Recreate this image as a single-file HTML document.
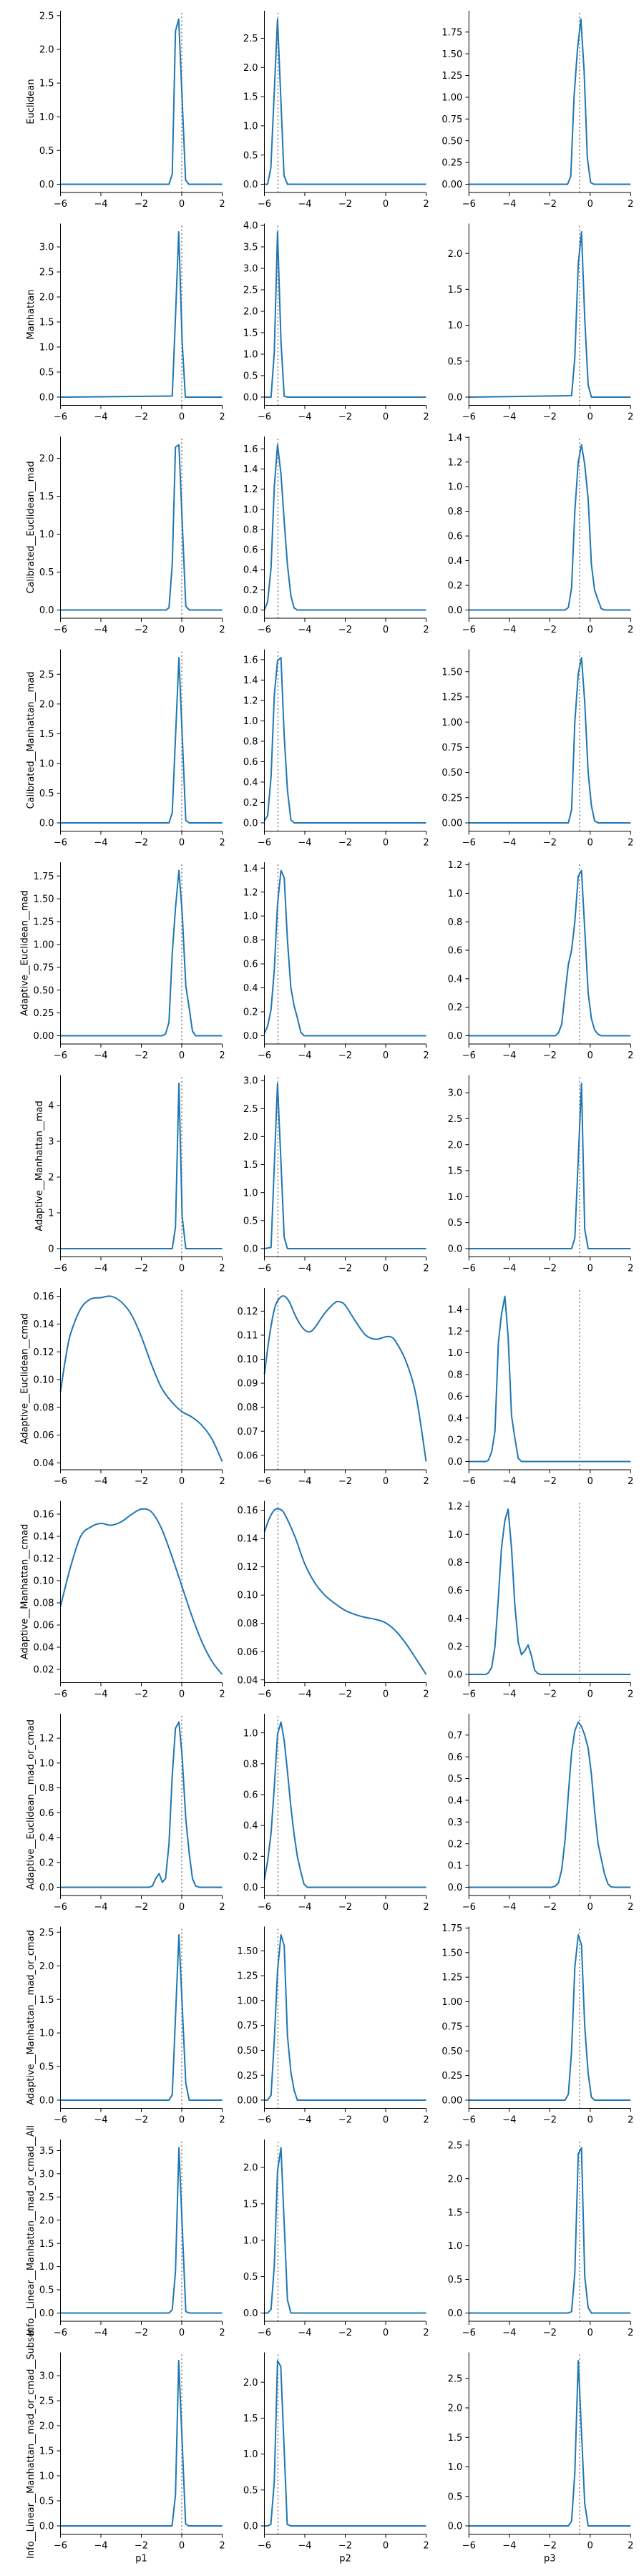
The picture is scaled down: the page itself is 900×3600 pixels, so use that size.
<!DOCTYPE html>
<html><head><meta charset="utf-8">
<style>
html,body{margin:0;padding:0;background:#fff;}
svg{display:block;font-family:"DejaVu Sans","Liberation Sans",sans-serif;}
</style></head>
<body>
<svg id="fig" xmlns="http://www.w3.org/2000/svg" width="900" height="3600" viewBox="0 0 900 3600"></svg>
<script>
const rowLabels=["Euclidean","Manhattan","Calibrated__Euclidean__mad","Calibrated__Manhattan__mad","Adaptive__Euclidean__mad","Adaptive__Manhattan__mad","Adaptive__Euclidean__cmad","Adaptive__Manhattan__cmad","Adaptive__Euclidean__mad_or_cmad","Adaptive__Manhattan__mad_or_cmad","Info__Linear__Manhattan__mad_or_cmad__All","Info__Linear__Manhattan__mad_or_cmad__Subset"];
const colLabels=["p1","p2","p3"];
const refLines=[0,-5.33,-0.53];
const xTicks=[-6,-4,-2,0,2];

const x_r1c1=[-6,-0.63,-0.47,-0.31,-0.15,0.19,0.35,2], y_r1c1=[0,0,0.15,2.27,2.45,0.06,0,0], t_r1c1=[0.5,1];
const x_r1c2=[-6,-5.84,-5.68,-5.35,-5.03,-4.86,2], y_r1c2=[0,0,0.28,2.83,0.15,0,0], t_r1c2=[0.5,1];
const x_r1c3=[-6,-1.12,-0.96,-0.8,-0.63,-0.46,-0.3,-0.14,0.02,0.18,2], y_r1c3=[0,0,0.09,1.0,1.55,1.9,1.3,0.3,0.02,0,0], t_r1c3=[0.25,2];
const x_r2c1=[-6,-0.47,-0.31,-0.15,0.02,0.18,2], y_r2c1=[0,0.02,1.6,3.3,1.1,0,0], t_r2c1=[0.5,1];
const x_r2c2=[-6,-5.67,-5.51,-5.35,-5.18,-5.02,-4.86,2], y_r2c2=[0,0,1.05,3.85,1.3,0.02,0,0], t_r2c2=[0.5,1];
const x_r2c3=[-6,-0.92,-0.76,-0.59,-0.43,-0.27,-0.1,0.06,2], y_r2c3=[0,0.02,0.55,1.85,2.3,1.1,0.17,0,0], t_r2c3=[0.5,1];
const x_r3c1=[-6,-0.78,-0.63,-0.47,-0.31,-0.14,0.2,0.37,2], y_r3c1=[0,0,0.03,0.6,2.15,2.18,0.05,0,0], t_r3c1=[0.5,1];
const x_r3c2=[-6,-5.84,-5.67,-5.51,-5.35,-5.18,-5.02,-4.86,-4.69,-4.53,-4.37,2], y_r3c2=[0,0.08,0.42,1.22,1.64,1.35,0.88,0.45,0.14,0.02,0,0], t_r3c2=[0.2,1];
const x_r3c3=[-6,-1.24,-1.08,-0.92,-0.76,-0.59,-0.43,-0.27,-0.1,0.06,0.22,0.39,0.55,0.71,2], y_r3c3=[0,0,0.02,0.18,0.8,1.2,1.34,1.18,0.9,0.37,0.16,0.08,0.01,0,0], t_r3c3=[0.2,1];
const x_r4c1=[-6,-0.63,-0.47,-0.14,0.2,0.37,2], y_r4c1=[0,0,0.17,2.78,0.04,0,0], t_r4c1=[0.5,1];
const x_r4c2=[-6,-5.84,-5.67,-5.51,-5.35,-5.18,-5.02,-4.86,-4.69,-4.53,2], y_r4c2=[0.02,0.07,0.45,1.25,1.59,1.62,0.85,0.32,0.03,0,0], t_r4c2=[0.2,1];
const x_r4c3=[-6,-1.08,-0.92,-0.76,-0.59,-0.43,-0.27,-0.1,0.06,0.22,0.39,2], y_r4c3=[0,0,0.13,1.0,1.48,1.64,1.2,0.5,0.17,0.02,0,0], t_r4c3=[0.25,2];
const x_r5c1=[-6,-0.96,-0.8,-0.63,-0.47,-0.31,-0.14,0.02,0.2,0.37,0.53,0.69,2], y_r5c1=[0,0,0.02,0.15,0.9,1.4,1.81,1.35,0.55,0.3,0.05,0,0], t_r5c1=[0.25,2];
const x_r5c2=[-6,-5.84,-5.67,-5.51,-5.35,-5.18,-5.02,-4.86,-4.69,-4.53,-4.37,-4.2,-4.04,2], y_r5c2=[0.02,0.08,0.22,0.55,1.1,1.38,1.32,0.8,0.4,0.25,0.15,0.03,0,0], t_r5c2=[0.2,1];
const x_r5c3=[-6,-1.73,-1.57,-1.41,-1.24,-1.08,-0.92,-0.76,-0.59,-0.43,-0.27,-0.1,0.06,0.22,0.39,0.55,2], y_r5c3=[0,0,0.02,0.08,0.3,0.5,0.6,0.8,1.12,1.16,0.75,0.3,0.12,0.04,0.01,0,0], t_r5c3=[0.2,1];
const x_r6c1=[-6,-0.47,-0.31,-0.14,0.02,0.2,2], y_r6c1=[0,0,0.6,4.62,0.9,0,0], t_r6c1=[1,0];
const x_r6c2=[-6,-5.67,-5.35,-5.02,-4.86,2], y_r6c2=[0,0.02,2.95,0.2,0,0], t_r6c2=[0.5,1];
const x_r6c3=[-6,-0.92,-0.76,-0.43,-0.27,-0.1,2], y_r6c3=[0,0,0.2,3.18,0.37,0,0], t_r6c3=[0.5,1];
const x_r7c1=[-6,-5.75,-5.5,-5,-4.5,-4,-3.5,-3,-2.5,-2,-1.5,-1,-0.5,0,0.5,1,1.5,2], y_r7c1=[0.091,0.115,0.133,0.151,0.158,0.159,0.160,0.156,0.147,0.131,0.111,0.094,0.084,0.077,0.073,0.067,0.057,0.041], t_r7c1=[0.02,2];
const x_r7c2=[-6,-5.75,-5.5,-5.25,-5,-4.75,-4.5,-4.25,-4,-3.75,-3.5,-3,-2.5,-2.25,-2,-1.5,-1,-0.5,0,0.25,0.5,1,1.5,2], y_r7c2=[0.0937,0.1096,0.121,0.1254,0.1262,0.1236,0.1187,0.1147,0.1121,0.1114,0.1132,0.1193,0.1236,0.1238,0.1224,0.1159,0.1101,0.1083,0.1093,0.1093,0.1073,0.0992,0.0849,0.0574], t_r7c2=[0.01,2];
const x_r7c3=[-6,-5.17,-5.04,-4.87,-4.71,-4.54,-4.39,-4.22,-4.06,-3.89,-3.73,-3.56,-3.4,2], y_r7c3=[0,0,0.01,0.09,0.28,1.1,1.35,1.52,1.15,0.42,0.22,0.03,0,0], t_r7c3=[0.2,1];
const x_r8c1=[-6,-5.5,-5,-4.5,-4,-3.5,-3,-2.5,-2,-1.5,-1,-0.5,0,0.5,1,1.5,2], y_r8c1=[0.0767,0.1125,0.140,0.1484,0.1516,0.150,0.153,0.1595,0.1645,0.162,0.147,0.1226,0.0954,0.0682,0.0447,0.027,0.0155], t_r8c1=[0.02,2];
const x_r8c2=[-6,-5.75,-5.5,-5.25,-5,-4.5,-4,-3.5,-3,-2.5,-2,-1.5,-1,-0.5,0,0.5,1,1.5,2], y_r8c2=[0.1446,0.1544,0.1602,0.1608,0.1573,0.1417,0.122,0.1085,0.0998,0.0939,0.0891,0.0862,0.0842,0.0828,0.0803,0.0745,0.0657,0.055,0.0439], t_r8c2=[0.02,2];
const x_r8c3=[-6,-5.17,-5.04,-4.87,-4.71,-4.54,-4.39,-4.22,-4.06,-3.89,-3.73,-3.56,-3.4,-3.23,-3.07,-2.9,-2.75,-2.58,-2.42,2], y_r8c3=[0,0,0.01,0.05,0.2,0.55,0.9,1.1,1.18,0.9,0.5,0.23,0.14,0.17,0.21,0.13,0.03,0.005,0,0], t_r8c3=[0.2,1];
const x_r9c1=[-6,-1.61,-1.45,-1.29,-1.12,-0.96,-0.8,-0.63,-0.47,-0.31,-0.14,0.02,0.2,0.37,0.53,0.69,0.86,2], y_r9c1=[0,0,0.01,0.07,0.11,0.04,0.07,0.35,0.9,1.28,1.33,1.05,0.55,0.27,0.07,0.01,0,0], t_r9c1=[0.2,1];
const x_r9c2=[-6,-5.84,-5.67,-5.51,-5.35,-5.18,-5.02,-4.86,-4.69,-4.53,-4.37,-4.2,-4.04,-3.88,2], y_r9c2=[0.05,0.17,0.35,0.65,0.99,1.07,0.95,0.75,0.52,0.34,0.2,0.1,0.02,0,0], t_r9c2=[0.2,1];
const x_r9c3=[-6,-1.9,-1.73,-1.57,-1.41,-1.24,-1.08,-0.92,-0.76,-0.59,-0.43,-0.27,-0.1,0.06,0.22,0.39,0.55,0.71,0.88,1.04,1.2,2], y_r9c3=[0,0,0.005,0.02,0.08,0.22,0.43,0.62,0.72,0.76,0.74,0.7,0.64,0.52,0.35,0.2,0.13,0.06,0.015,0.002,0,0], t_r9c3=[0.1,1];
const x_r10c1=[-6,-0.63,-0.47,-0.14,0.2,0.37,2], y_r10c1=[0,0,0.08,2.46,0.25,0,0], t_r10c1=[0.5,1];
const x_r10c2=[-6,-5.84,-5.67,-5.51,-5.35,-5.18,-5.02,-4.86,-4.69,-4.53,-4.37,2], y_r10c2=[0,0,0.05,0.6,1.3,1.66,1.55,0.65,0.28,0.1,0,0], t_r10c2=[0.25,2];
const x_r10c3=[-6,-1.24,-1.08,-0.92,-0.76,-0.59,-0.43,-0.27,-0.1,0.06,0.22,2], y_r10c3=[0,0,0.06,0.5,1.35,1.68,1.58,0.75,0.27,0.03,0,0], t_r10c3=[0.25,2];
const x_r11c1=[-6,-0.63,-0.47,-0.31,-0.14,0.2,0.37,2], y_r11c1=[0,0,0.07,0.9,3.56,0.03,0,0], t_r11c1=[0.5,1];
const x_r11c2=[-6,-5.84,-5.67,-5.51,-5.35,-5.18,-4.86,-4.69,2], y_r11c2=[0,0,0.05,0.65,1.95,2.27,0.18,0,0], t_r11c2=[0.5,1];
const x_r11c3=[-6,-1.08,-0.92,-0.76,-0.59,-0.43,-0.27,-0.1,0.06,2], y_r11c3=[0,0,0.02,0.6,2.37,2.46,0.55,0.08,0,0], t_r11c3=[0.5,1];
const x_r12c1=[-6,-0.48,-0.31,-0.15,0.19,0.34,2], y_r12c1=[0,0,0.62,3.3,0.04,0,0], t_r12c1=[0.5,1];
const x_r12c2=[-6,-5.84,-5.68,-5.51,-5.35,-5.19,-4.87,-4.7,2], y_r12c2=[0,0,0.02,0.62,2.3,2.22,0.02,0,0], t_r12c2=[0.5,1];
const x_r12c3=[-6,-1.08,-0.92,-0.76,-0.59,-0.27,-0.1,2], y_r12c3=[0,0,0.08,0.9,2.8,0.38,0,0], t_r12c3=[0.5,1];

const panelX=[[x_r1c1,x_r1c2,x_r1c3],[x_r2c1,x_r2c2,x_r2c3],[x_r3c1,x_r3c2,x_r3c3],[x_r4c1,x_r4c2,x_r4c3],[x_r5c1,x_r5c2,x_r5c3],[x_r6c1,x_r6c2,x_r6c3],[x_r7c1,x_r7c2,x_r7c3],[x_r8c1,x_r8c2,x_r8c3],[x_r9c1,x_r9c2,x_r9c3],[x_r10c1,x_r10c2,x_r10c3],[x_r11c1,x_r11c2,x_r11c3],[x_r12c1,x_r12c2,x_r12c3]];
const panelY=[[y_r1c1,y_r1c2,y_r1c3],[y_r2c1,y_r2c2,y_r2c3],[y_r3c1,y_r3c2,y_r3c3],[y_r4c1,y_r4c2,y_r4c3],[y_r5c1,y_r5c2,y_r5c3],[y_r6c1,y_r6c2,y_r6c3],[y_r7c1,y_r7c2,y_r7c3],[y_r8c1,y_r8c2,y_r8c3],[y_r9c1,y_r9c2,y_r9c3],[y_r10c1,y_r10c2,y_r10c3],[y_r11c1,y_r11c2,y_r11c3],[y_r12c1,y_r12c2,y_r12c3]];
const panelT=[[t_r1c1,t_r1c2,t_r1c3],[t_r2c1,t_r2c2,t_r2c3],[t_r3c1,t_r3c2,t_r3c3],[t_r4c1,t_r4c2,t_r4c3],[t_r5c1,t_r5c2,t_r5c3],[t_r6c1,t_r6c2,t_r6c3],[t_r7c1,t_r7c2,t_r7c3],[t_r8c1,t_r8c2,t_r8c3],[t_r9c1,t_r9c2,t_r9c3],[t_r10c1,t_r10c2,t_r10c3],[t_r11c1,t_r11c2,t_r11c3],[t_r12c1,t_r12c2,t_r12c3]];

const NS="http://www.w3.org/2000/svg";
const svg=document.getElementById('fig');
const colLeft=[84.5,369.5,655.3], PW=226, PH=254, TOP0=15, PITCH=297.5, FS=13;
function mk(tag,attrs,parent){const e=document.createElementNS(NS,tag);for(const k in attrs)e.setAttribute(k,attrs[k]);(parent||svg).appendChild(e);return e;}
function fmt(v,d){const s=v.toFixed(d);return s.startsWith('-')?'\u2212'+s.slice(1):s;}

for(let r=0;r<12;r++){
  const top=TOP0+r*PITCH, bot=top+PH;
  for(let c=0;c<3;c++){
    const L=colLeft[c], R=L+PW;
    const xs=panelX[r][c], ys=panelY[r][c], tk=panelT[r][c];
    const mn=Math.min(...ys), mx=Math.max(...ys), rg=mx-mn;
    const lo=mn-0.05*rg, hi=mx+0.05*rg;
    const sx=v=>L+(v+6)/8*PW;
    const sy=v=>bot-(v-lo)/(hi-lo)*PH;
    const g=mk('g',{});
    
    
    const rl=mk('line',{x1:sx(refLines[c]),x2:sx(refLines[c]),y1:top+3,y2:bot,stroke:'#808080','stroke-width':1.5,'stroke-dasharray':'2,3.3'},g);
    
    
    const P=xs.map((x,i)=>[sx(x),sy(ys[i])]);
    let d='M'+P[0][0].toFixed(2)+','+P[0][1].toFixed(2);
    const smooth=mn>0.01;
    for(let i=1;i<P.length;i++){
      if(smooth){
        const p0=P[Math.max(0,i-2)],p1=P[i-1],p2=P[i],p3=P[Math.min(P.length-1,i+1)];
        const c1=[p1[0]+(p2[0]-p0[0])/6,p1[1]+(p2[1]-p0[1])/6];
        const c2=[p2[0]-(p3[0]-p1[0])/6,p2[1]-(p3[1]-p1[1])/6];
        d+=`C${c1[0].toFixed(2)},${c1[1].toFixed(2)} ${c2[0].toFixed(2)},${c2[1].toFixed(2)} ${p2[0].toFixed(2)},${p2[1].toFixed(2)}`;
      } else d+='L'+P[i][0].toFixed(2)+','+P[i][1].toFixed(2);
    }
    const p=mk('path',{d:d,fill:'none',stroke:'#1f77b4','stroke-width':2,'stroke-linejoin':'round'},g);
    
    
    const sp=mk('path',{d:`M${L},${top}V${bot}H${R}`,fill:'none',stroke:'#000','stroke-width':1},g);
    
    
    for(const t of xTicks){
      const x=sx(t);
      mk('line',{x1:x,x2:x,y1:bot,y2:bot+5,stroke:'#000','stroke-width':1},g);
      const tx=mk('text',{x:x,y:bot+20,'font-size':FS,'text-anchor':'middle',fill:'#000'},g);
      tx.textContent=fmt(t,0);
      
      
    }
    const step=tk[0], dec=tk[1];
    let maxw=0;
    for(let k=Math.ceil(lo/step-1e-9);k*step<=hi+1e-9;k++){
      const v=+(k*step).toFixed(6), y=sy(v);
      mk('line',{x1:L-5,x2:L,y1:y,y2:y,stroke:'#000','stroke-width':1},g);
      const ty=mk('text',{x:L-9,y:y+4.6,'font-size':FS,'text-anchor':'end',fill:'#000'},g);
      ty.textContent=fmt(v,dec);
      
      
      try{maxw=Math.max(maxw,ty.getComputedTextLength());}catch(e){maxw=Math.max(maxw,ty.textContent.length*8);}
    }
    if(c===0){
      const bx=L-9-maxw-8;
      const yl=mk('text',{x:0,y:0,'font-size':FS,'text-anchor':'middle',fill:'#000',transform:`translate(${bx},${(top+bot)/2}) rotate(-90)`},g);
      yl.textContent=rowLabels[r];
      
      
    }
    if(r===11){
      const xl=mk('text',{x:(L+R)/2,y:bot+38,'font-size':FS,'text-anchor':'middle',fill:'#000'},g);
      xl.textContent=colLabels[c];
      
      
    }
  }
}
</script>
</body></html>
